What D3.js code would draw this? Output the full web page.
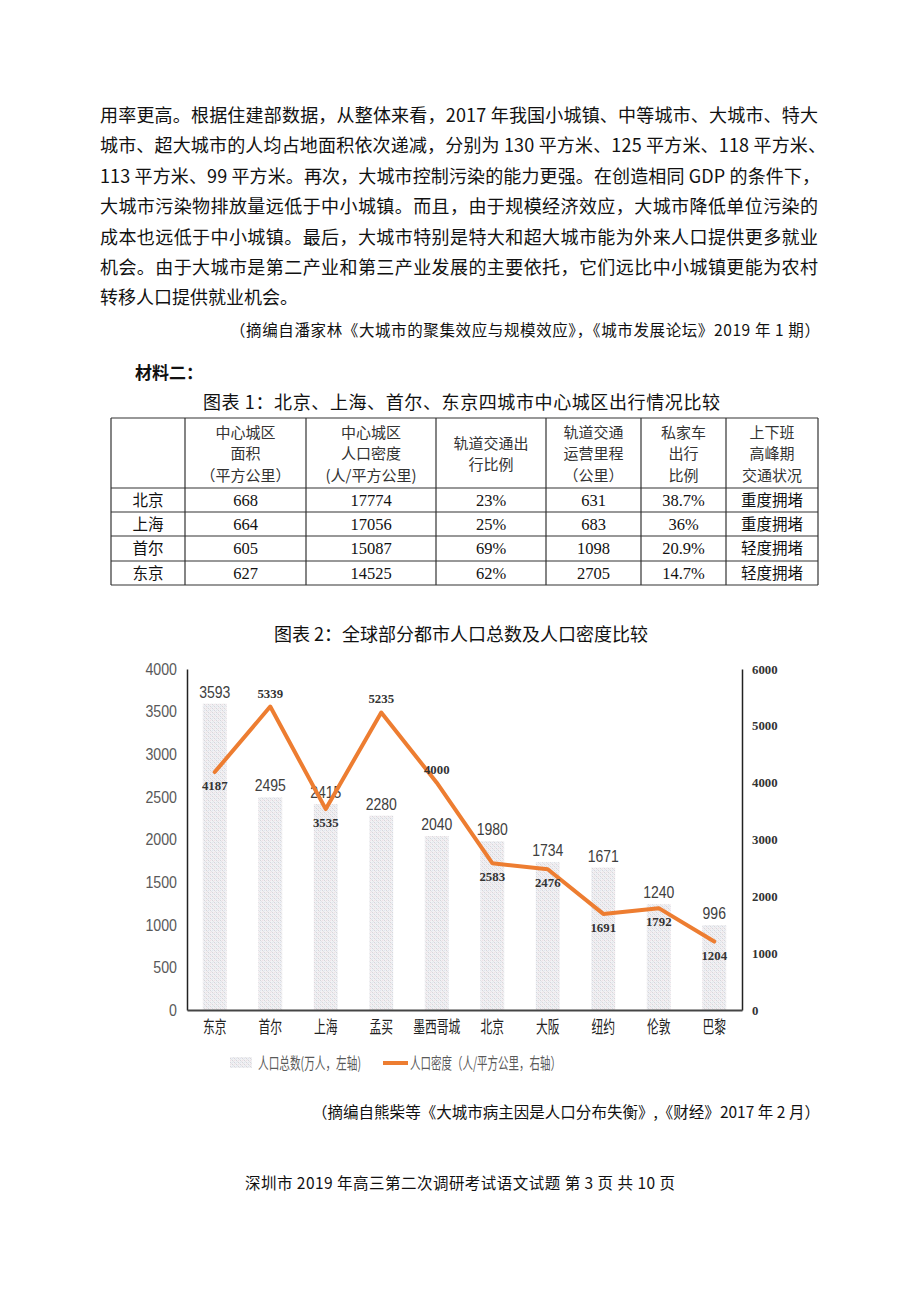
<!DOCTYPE html>
<html><head><meta charset="utf-8">
<script src="https://cdn.jsdelivr.net/npm/d3@7/dist/d3.min.js"></script>
<style>
html,body{margin:0;padding:0;background:#fff;}
svg{display:block;}
</style></head>
<body>
<svg id="page" width="920" height="1300"></svg>
<script>
// ---------- text data ----------
const paragraphLines = [
  "用率更高。根据住建部数据，从整体来看，2017 年我国小城镇、中等城市、大城市、特大",
  "城市、超大城市的人均占地面积依次递减，分别为 130 平方米、125 平方米、118 平方米、",
  "113 平方米、99 平方米。再次，大城市控制污染的能力更强。在创造相同 GDP 的条件下，",
  "大城市污染物排放量远低于中小城镇。而且，由于规模经济效应，大城市降低单位污染的",
  "成本也远低于中小城镇。最后，大城市特别是特大和超大城市能为外来人口提供更多就业",
  "机会。由于大城市是第二产业和第三产业发展的主要依托，它们远比中小城镇更能为农村",
  "转移人口提供就业机会。"
];
const citation1 = "（摘编自潘家林《大城市的聚集效应与规模效应》，《城市发展论坛》2019 年 1 期）";
const materialLabel = "材料二：";
const table1Title = "图表 1：北京、上海、首尔、东京四城市中心城区出行情况比较";
const chart2Title = "图表 2：全球部分都市人口总数及人口密度比较";
const citation2 = "（摘编自熊柴等《大城市病主因是人口分布失衡》,《财经》2017 年 2 月）";
const footer = "深圳市 2019 年高三第二次调研考试语文试题 第 3 页 共 10 页";

// ---------- table data ----------
const tableHeaders = [
  [],
  ["中心城区","面积","（平方公里）"],
  ["中心城区","人口密度","(人/平方公里)"],
  ["轨道交通出","行比例"],
  ["轨道交通","运营里程","（公里）"],
  ["私家车","出行","比例"],
  ["上下班","高峰期","交通状况"]
];
const tableCities = ["北京","上海","首尔","东京"];
const centralArea = ["668","664","605","627"];
const centralDensity = ["17774","17056","15087","14525"];
const railShare = ["23%","25%","69%","62%"];
const railLength = ["631","683","1098","2705"];
const carShare = ["38.7%","36%","20.9%","14.7%"];
const peakStatus = ["重度拥堵","重度拥堵","轻度拥堵","轻度拥堵"];

// ---------- chart data ----------
const cities = ["东京","首尔","上海","孟买","墨西哥城","北京","大阪","纽约","伦敦","巴黎"];
const population = [3593,2495,2415,2280,2040,1980,1734,1671,1240,996];
const density = [4187,5339,3535,5235,4000,2583,2476,1691,1792,1204];
const leftTicks = [0,500,1000,1500,2000,2500,3000,3500,4000];
const rightTicks = [0,1000,2000,3000,4000,5000,6000];
const legendLabels = ["人口总数(万人，左轴)","人口密度（人/平方公里，右轴）"];

// ---------- drawing ----------
(function(){
const svg = d3.select("#page");
const CJK = "'Noto Sans CJK SC','Noto Sans',sans-serif";
const SERIF = "'Liberation Serif','DejaVu Serif',serif";
const SANS = "'Liberation Sans',Arial,sans-serif";

function condense(sel, perChar){
  sel.each(function(){
    const n = this.textContent.length;
    d3.select(this).attr("textLength", n*perChar).attr("lengthAdjust","spacingAndGlyphs");
  });
}

// paragraph
const lineY0 = 122, lineStep = 30.4;
paragraphLines.forEach((t,i)=>{
  const el = svg.append("text")
    .attr("x",100).attr("y",lineY0+i*lineStep)
    .attr("font-family",CJK).attr("font-size",18).attr("fill","#111")
    .text(t);
  if(i<paragraphLines.length-1){
    el.attr("textLength", i===1?726:(i===2?720:718)).attr("lengthAdjust","spacing");
  }
});
svg.append("text").attr("x",230).attr("y",336)
  .attr("font-family",CJK).attr("font-size",15.5).attr("fill","#111")
  .attr("textLength",590).attr("lengthAdjust","spacing").text(citation1);

svg.append("text").attr("x",135).attr("y",379)
  .attr("font-family",CJK).attr("font-size",17).attr("font-weight","bold").attr("fill","#111")
  .text(materialLabel);

svg.append("text").attr("x",203).attr("y",409)
  .attr("font-family",CJK).attr("font-size",18).attr("fill","#111")
  .attr("textLength",517).attr("lengthAdjust","spacing").text(table1Title);

// table
const colX = [111,185,306,436,546,641,726,818];
const rowY = [418,488,512,536,561,585];
const tg = svg.append("g");
colX.forEach(x=>tg.append("line").attr("x1",x).attr("x2",x).attr("y1",rowY[0]).attr("y2",rowY[rowY.length-1])
  .attr("stroke","#333").attr("stroke-width",1.2));
rowY.forEach(y=>tg.append("line").attr("x1",colX[0]).attr("x2",colX[colX.length-1]).attr("y1",y).attr("y2",y)
  .attr("stroke","#333").attr("stroke-width",1.2));
tableHeaders.forEach((lines,ci)=>{
  const cx = (colX[ci]+colX[ci+1])/2;
  const cy = (rowY[0]+rowY[1])/2 + 1;
  const step = 21.5;
  lines.forEach((ln,li)=>{
    tg.append("text").attr("x",cx).attr("y",cy+(li-(lines.length-1)/2)*step)
      .attr("dy","0.36em").attr("text-anchor","middle")
      .attr("font-family",CJK).attr("font-size",15).attr("fill","#333").text(ln);
  });
});
const cols = [tableCities,centralArea,centralDensity,railShare,railLength,carShare,peakStatus];
cols.forEach((arr,ci)=>{
  const cx = (colX[ci]+colX[ci+1])/2;
  arr.forEach((v,ri)=>{
    const cy = (rowY[ri+1]+rowY[ri+2])/2;
    const isCJK = (ci===0||ci===6);
    tg.append("text").attr("x",cx).attr("y",cy).attr("dy","0.36em").attr("text-anchor","middle")
      .attr("font-family",isCJK?CJK:SERIF).attr("font-size",isCJK?15.5:16.5).attr("fill","#111").text(v);
  });
});

// chart 2 title
svg.append("text").attr("x",461).attr("y",641).attr("text-anchor","middle")
  .attr("font-family",CJK).attr("font-size",18).attr("fill","#111").text(chart2Title);

// bar pattern
const defs = svg.append("defs");
const pat = defs.append("pattern").attr("id","dots").attr("patternUnits","userSpaceOnUse")
  .attr("width",4).attr("height",4);
pat.append("rect").attr("width",4).attr("height",4).attr("fill","#f1f1f3");
pat.append("rect").attr("x",0).attr("y",0).attr("width",1).attr("height",1).attr("fill","#d6d6da");
pat.append("rect").attr("x",2).attr("y",2).attr("width",1).attr("height",1).attr("fill","#d6d6da");
pat.append("rect").attr("x",2).attr("y",0).attr("width",1).attr("height",1).attr("fill","#f0dfe6");
pat.append("rect").attr("x",0).attr("y",2).attr("width",1).attr("height",1).attr("fill","#dfe4f0");
pat.append("rect").attr("x",1).attr("y",1).attr("width",1).attr("height",1).attr("fill","#e3e3e6");
pat.append("rect").attr("x",3).attr("y",3).attr("width",1).attr("height",1).attr("fill","#e3e3e6");

const pLeft = 187, pRight = 742, pTop = 669, pBottom = 1010;
const x = d3.scaleBand().domain(cities).range([pLeft,pRight]).paddingInner(0.57).paddingOuter(0.285);
const yL = d3.scaleLinear().domain([0,4000]).range([pBottom,pTop]);
const yR = d3.scaleLinear().domain([0,6000]).range([pBottom,pTop]);

const chart = svg.append("g");
chart.selectAll("rect.bar").data(cities).join("rect").attr("class","bar")
  .attr("x",d=>x(d)).attr("width",x.bandwidth())
  .attr("y",(d,i)=>yL(population[i])).attr("height",(d,i)=>pBottom-yL(population[i]))
  .attr("fill","url(#dots)");

const axL = chart.append("g").attr("transform",`translate(${pLeft},0)`)
  .call(d3.axisLeft(yL).tickValues(leftTicks).tickSize(0).tickPadding(10).tickFormat(d3.format("d")));
axL.select(".domain").attr("stroke","#222").attr("stroke-width",1.5);
axL.selectAll("text").attr("font-family",SANS).attr("font-size",16.5).attr("fill","#595959")
  .call(condense, 7.9);

const axR = chart.append("g").attr("transform",`translate(${pRight},0)`)
  .call(d3.axisRight(yR).tickValues(rightTicks).tickSize(0).tickPadding(10).tickFormat(d3.format("d")));
axR.select(".domain").attr("stroke","#222").attr("stroke-width",1.5);
axR.selectAll("text").attr("font-family",SERIF).attr("font-weight","bold").attr("font-size",12.5).attr("fill","#333")
  .call(condense, 6.4);

const axB = chart.append("g").attr("transform",`translate(0,${pBottom})`)
  .call(d3.axisBottom(x).tickSize(0).tickPadding(11));
axB.select(".domain").attr("stroke","#444").attr("stroke-width",2);
axB.selectAll("text").attr("font-family",CJK).attr("font-size",16.5).attr("fill","#222")
  .call(condense, 11.8);

chart.selectAll("text.blab").data(cities).join("text").attr("class","blab")
  .attr("x",d=>x(d)+x.bandwidth()/2).attr("y",(d,i)=>yL(population[i])-6)
  .attr("text-anchor","middle").attr("font-family",SANS).attr("font-size",17).attr("fill","#404040")
  .text((d,i)=>population[i])
  .call(condense, 7.8);

const line = d3.line().x((d,i)=>x(cities[i])+x.bandwidth()/2).y(d=>yR(d));
chart.append("path").datum(density).attr("d",line).attr("fill","none")
  .attr("stroke","#ED7D31").attr("stroke-width",4).attr("stroke-linejoin","round").attr("stroke-linecap","round");

// density labels: above the point when the point sits above its bar top, below otherwise
chart.selectAll("text.dlab").data(cities).join("text").attr("class","dlab")
  .attr("x",d=>x(d)+x.bandwidth()/2)
  .attr("y",(d,i)=>{
    const py = yR(density[i]);
    return py < yL(population[i]) ? py-9 : py+18;
  })
  .attr("text-anchor","middle").attr("font-family",SERIF).attr("font-weight","bold")
  .attr("font-size",12.5).attr("fill","#333").text((d,i)=>density[i])
  .call(condense, 6.4);

// legend
const lg = svg.append("g");
lg.append("rect").attr("x",230).attr("y",1057).attr("width",22).attr("height",11).attr("fill","url(#dots)");
lg.append("text").attr("x",258).attr("y",1069).attr("font-family",CJK).attr("font-size",16)
  .attr("fill","#595959").attr("textLength",103).attr("lengthAdjust","spacingAndGlyphs").text(legendLabels[0]);
lg.append("line").attr("x1",383).attr("x2",408).attr("y1",1063).attr("y2",1063)
  .attr("stroke","#ED7D31").attr("stroke-width",4);
lg.append("text").attr("x",410).attr("y",1069).attr("font-family",CJK).attr("font-size",16)
  .attr("fill","#595959").attr("textLength",151).attr("lengthAdjust","spacingAndGlyphs").text(legendLabels[1]);

svg.append("text").attr("x",312).attr("y",1118)
  .attr("font-family",CJK).attr("font-size",15.5).attr("fill","#111")
  .attr("textLength",508).attr("lengthAdjust","spacing").text(citation2);

svg.append("text").attr("x",245).attr("y",1189)
  .attr("font-family",CJK).attr("font-size",15.5).attr("fill","#111")
  .attr("textLength",430).attr("lengthAdjust","spacing").text(footer);
})();
</script>
</body></html>
